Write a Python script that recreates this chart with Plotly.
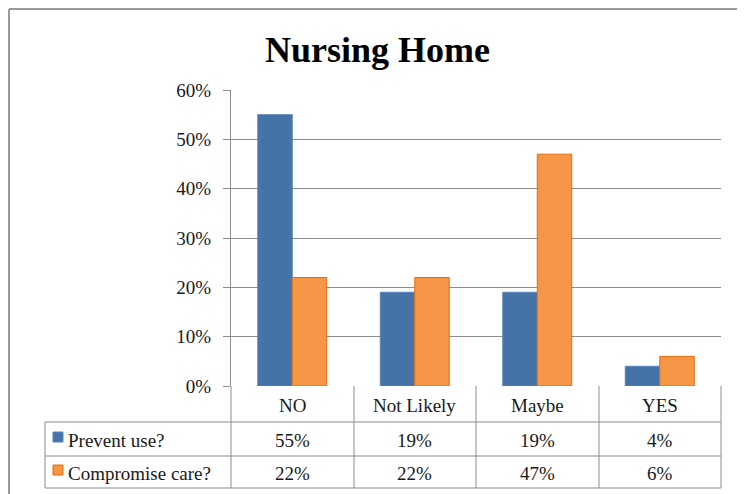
import plotly.graph_objects as go

categories = ["NO", "Not Likely", "Maybe", "YES"]
series_names = ["Prevent use?", "Compromise care?"]
prevent_use = [0.55, 0.19, 0.19, 0.04]
compromise_care = [0.22, 0.22, 0.47, 0.06]
y_ticks = [0, 0.1, 0.2, 0.3, 0.4, 0.5, 0.6]
y_tick_labels = ["0%", "10%", "20%", "30%", "40%", "50%", "60%"]

# page body has an 8px margin; work in screen pixels and convert
OFF = 8
W, H = 745 - OFF, 494 - OFF
X0, X1, Y0, Y1 = 231, 721, 90, 386  # plot area in screen px
L, R, T, B = X0 - OFF, W - (X1 - OFF), Y0 - OFF, H - (Y1 - OFF)
PW, PH = X1 - X0, Y1 - Y0

def px(x):
    return (x - X0) / PW

def py(y):
    return (Y1 - y) / PH

blue = "#4572A7"
orange = "#F79646"
grid = "#8c8c8c"
font_serif = "Liberation Serif"

fig = go.Figure()
fig.add_trace(go.Bar(x=categories, y=prevent_use, name=series_names[0],
                     marker=dict(color=blue, line=dict(color="#5b84b8", width=1))))
fig.add_trace(go.Bar(x=categories, y=compromise_care, name=series_names[1],
                     marker=dict(color=orange, line=dict(color="#E46C0A", width=1))))

shapes = []
gl = dict(color=grid, width=1)
bl = dict(color="#9a9a9a", width=2)
# outer chart border (left, right, top)
shapes.append(dict(type="line", xref="paper", yref="paper", x0=px(9), x1=px(9), y0=py(540), y1=py(9), line=bl))
shapes.append(dict(type="line", xref="paper", yref="paper", x0=px(740.5), x1=px(740.5), y0=py(540), y1=py(9), line=bl))
shapes.append(dict(type="line", xref="paper", yref="paper", x0=px(9), x1=px(740.5), y0=py(9), y1=py(9), line=bl))
# table vertical lines
for xv in [231, 354, 476, 599, 721]:
    shapes.append(dict(type="line", xref="paper", yref="paper", x0=px(xv), x1=px(xv), y0=py(386), y1=py(488), line=gl))
shapes.append(dict(type="line", xref="paper", yref="paper", x0=px(45), x1=px(45), y0=py(422), y1=py(488), line=gl))
for yv in [422, 456, 488]:
    shapes.append(dict(type="line", xref="paper", yref="paper", x0=px(45), x1=px(721), y0=py(yv), y1=py(yv), line=gl))
# legend keys
for yc, c, lc in [(437, blue, "#5b84b8"), (470, orange, "#E46C0A")]:
    shapes.append(dict(type="rect", xref="paper", yref="paper", x0=px(53), x1=px(63), y0=py(yc + 5), y1=py(yc - 5),
                       fillcolor=c, line=dict(color=lc, width=1)))

annotations = []
tf = dict(family=font_serif, size=19, color="#1a1a1a")
for i, c in enumerate(categories):
    annotations.append(dict(x=c, xref="x", y=py(405), yref="paper", text=c, showarrow=False, font=tf,
                            xanchor="center", yanchor="middle"))
    annotations.append(dict(x=c, xref="x", y=py(440), yref="paper", text=f"{round(prevent_use[i]*100)}%",
                            showarrow=False, font=tf, xanchor="center", yanchor="middle"))
    annotations.append(dict(x=c, xref="x", y=py(473), yref="paper", text=f"{round(compromise_care[i]*100)}%",
                            showarrow=False, font=tf, xanchor="center", yanchor="middle"))
annotations.append(dict(x=px(66), xref="paper", y=py(440), yref="paper", text=series_names[0], showarrow=False,
                        font=tf, xanchor="left", yanchor="middle"))
annotations.append(dict(x=px(66), xref="paper", y=py(473), yref="paper", text=series_names[1], showarrow=False,
                        font=tf, xanchor="left", yanchor="middle"))

fig.update_layout(
    width=W, height=H, autosize=False,
    margin=dict(l=L, r=R, t=T, b=B, pad=0),
    paper_bgcolor="white", plot_bgcolor="white",
    title=dict(text="<b>Nursing Home</b>", x=(377.5 - OFF) / W, xanchor="center", y=1 - (49 - OFF) / H,
               yanchor="middle", font=dict(family=font_serif, size=36, color="black")),
    showlegend=False,
    barmode="group", bargap=0.437, bargroupgap=0,
    xaxis=dict(showticklabels=False, showgrid=False, zeroline=False, showline=False, ticks=""),
    yaxis=dict(range=[0, 0.6], tickvals=y_ticks, ticktext=y_tick_labels,
               showgrid=True, gridcolor=grid, gridwidth=1, zeroline=False,
               showline=True, linecolor=grid, linewidth=1, ticks="outside", ticklen=7, tickcolor=grid,
               ticklabelstandoff=8,
               tickfont=dict(family=font_serif, size=19, color="#1a1a1a")),
    shapes=shapes, annotations=annotations,
    font=dict(family=font_serif),
)

fig.write_html("out.html")
